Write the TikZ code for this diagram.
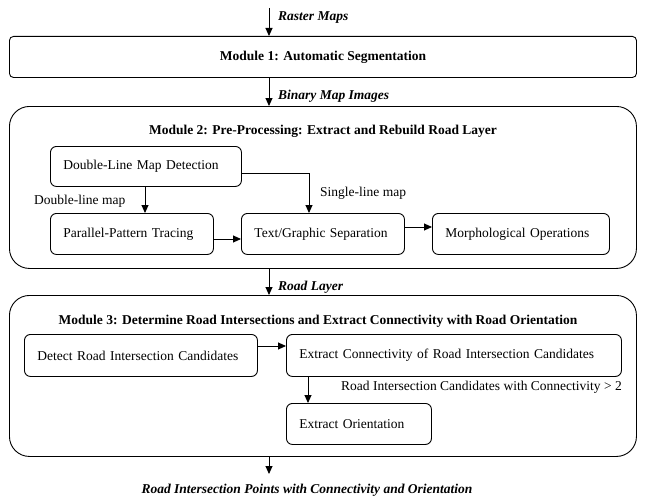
\documentclass[tikz,border=0pt]{standalone}
\usepackage{fontspec}
\setmainfont{Liberation Serif}
\usetikzlibrary{arrows.meta}
\newcommand\mysize{\fontsize{13.5}{16}\selectfont}
\tikzset{
  arr/.style={-{Triangle[length=8pt,width=7pt]}, line width=0.9pt},
  modbox/.style={draw, line width=0.9pt, rounded corners=20pt, inner sep=0pt},
  stepbox/.style={draw, line width=0.9pt, rounded corners=6pt, anchor=north west, align=left, inner xsep=13pt, inner ysep=0pt, font=\mysize},
  flowlbl/.style={anchor=west, font=\mysize\bfseries\itshape, inner sep=0pt},
  plainlbl/.style={anchor=west, inner sep=0pt, font=\mysize},
  title/.style={font=\mysize\bfseries, inner sep=0pt}
}
\begin{document}
\begin{tikzpicture}[x=1pt,y=-1pt]
\useasboundingbox (0,0) rectangle (647,503);
\fill[white] (0,0) rectangle (647,503);

% Module 1
\node[draw, line width=0.9pt, rounded corners=4pt, anchor=north west, minimum width=627pt, minimum height=41pt, inner sep=0pt] (m1) at (9,36) {};
\node[title] (m1t) at (323,57) {Module 1: Automatic Segmentation};

% Module 2
\node[modbox, anchor=north west, minimum width=627pt, minimum height=162pt] (m2) at (9,106) {};
\node[title] (m2t) at (323,131) {Module 2: Pre-Processing: Extract and Rebuild Road Layer};
\node[stepbox, text width=165pt, minimum height=40pt] (dlmd) at (50,146) {Double-Line Map Detection};
\node[stepbox, text width=137pt, minimum height=41pt] (ppt) at (50,213) {Parallel-Pattern Tracing};
\node[stepbox, text width=137pt, minimum height=41pt] (tgs) at (241,213) {Text/Graphic Separation};
\node[stepbox, text width=151pt, minimum height=41pt] (mo) at (432,213) {Morphological Operations};

% Module 3
\node[modbox, anchor=north west, minimum width=627pt, minimum height=161pt] (m3) at (9,295) {};
\node[title] (m3t) at (318,321) {Module 3: Determine Road Intersections and Extract Connectivity with Road Orientation};
\node[stepbox, text width=207pt, minimum height=42pt] (dric) at (24,334) {Detect Road Intersection Candidates};
\node[stepbox, text width=309pt, minimum height=42pt] (ecric) at (286,334) {Extract Connectivity of Road Intersection Candidates};
\node[stepbox, text width=119pt, minimum height=41pt] (eo) at (286,403) {Extract Orientation};

% flow column
\coordinate (top) at (269,8);
\coordinate (bot) at (269,474);
\draw[arr] (top) -- (top |- m1.north);
\node[flowlbl] (l1) at (278,18) {Raster Maps};
\draw[arr] (top |- m1.south) -- (top |- m2.north);
\node[flowlbl] (l2) at (278,96) {Binary Map Images};
\draw[arr] (top |- m2.south) -- (top |- m3.north);
\node[flowlbl] (l3) at (278,287) {Road Layer};
\draw[arr] (top |- m3.south) -- (bot);
\node[flowlbl, anchor=center] (l4) at (307,490) {Road Intersection Points with Connectivity and Orientation};

% module 2 connectors
\coordinate (dlx) at (145,0);
\draw[arr] (dlx |- dlmd.south) -- (dlx |- ppt.north);
\node[plainlbl] (dl) at (34,201) {Double-line map};
\coordinate (slx) at (309,173);
\draw[arr] (dlmd.east |- slx) -| (slx |- tgs.north);
\node[plainlbl] (sl) at (320,193) {Single-line map};
\coordinate (pty) at (0,239);
\draw[arr] (ppt.east |- pty) -- (tgs.west |- pty);
\coordinate (tmy) at (0,227);
\draw[arr] (tgs.east |- tmy) -- (mo.west |- tmy);

% module 3 connectors
\coordinate (dcy) at (0,346);
\draw[arr] (dric.east |- dcy) -- (ecric.west |- dcy);
\coordinate (ceo) at (308,0);
\draw[arr] (ceo |- ecric.south) -- (ceo |- eo.north);
\node[plainlbl] (cl) at (341,387) {Road Intersection Candidates with Connectivity > 2};
\end{tikzpicture}
\end{document}
